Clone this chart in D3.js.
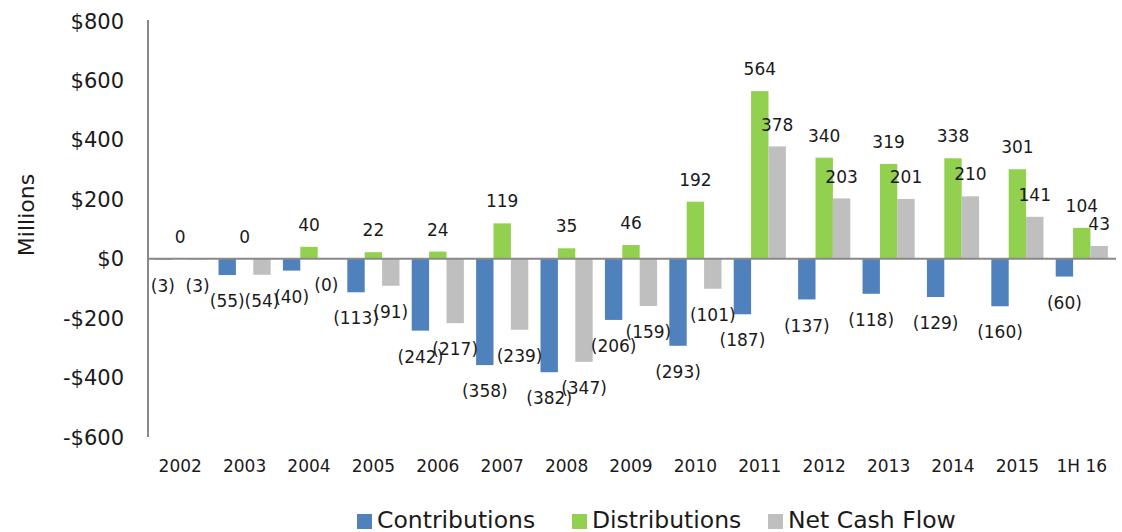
<!DOCTYPE html>
<html>
<head>
<meta charset="utf-8">
<script src="https://cdn.jsdelivr.net/npm/d3@7"></script>
<style>
  body { margin: 0; background: #fff; }
  svg text { font-family: "DejaVu Sans", sans-serif; fill: #1a1a1a; }
</style>
</head>
<body>
<svg width="1122" height="532"></svg>
<script>
var years = ["2002", "2003", "2004", "2005", "2006", "2007", "2008", "2009", "2010",
             "2011", "2012", "2013", "2014", "2015", "1H 16"];
var contributions = [-3, -55, -40, -113, -242, -358, -382, -206, -293, -187, -137, -118, -129, -160, -60];
var distributions = [0, 0, 40, 22, 24, 119, 35, 46, 192, 564, 340, 319, 338, 301, 104];
var netCashFlow = [-3, -54, -0.4, -91, -217, -239, -347, -159, -101, 378, 203, 201, 210, 141, 43];
var yTicks = [-600, -400, -200, 0, 200, 400, 600, 800];

var seriesNames = ["Contributions", "Distributions", "Net Cash Flow"];
var seriesColors = ["#4F81BD", "#92D050", "#BFBFBF"];
var seriesValues = [contributions, distributions, netCashFlow];

var svg = d3.select("svg");

// plot edges (not named top/left: window.top is read-only)
var plotL = 148, plotR = 1114, plotT = 21, plotB = 437;

var x0 = d3.scaleBand().domain(years).range([plotL, plotR]).padding(0);
var gap = x0.bandwidth() * 0.095;
var x1 = d3.scaleBand().domain(seriesNames).range([gap, x0.bandwidth() - gap]).padding(0);
var y = d3.scaleLinear().domain([-600, 800]).range([plotB, plotT]);

function fmt(v) {
    if (v < 0) return "(" + Math.round(-v) + ")";
    return "" + Math.round(v);
}

// bars
seriesNames.forEach(function(name, s) {
    var vals = seriesValues[s];
    svg.append("g").selectAll("rect")
        .data(years)
        .enter().append("rect")
        .attr("x", (d) => x0(d) + x1(name))
        .attr("width", x1.bandwidth())
        .attr("y", (d, i) => y(Math.max(0, vals[i])))
        .attr("height", (d, i) => Math.abs(y(vals[i]) - y(0)))
        .attr("fill", seriesColors[s]);
});

// axis lines
svg.append("line")
    .attr("x1", plotL).attr("x2", 1116)
    .attr("y1", y(0)).attr("y2", y(0))
    .attr("stroke", "#898989").attr("stroke-width", 2);
svg.append("line")
    .attr("x1", plotL).attr("x2", plotL)
    .attr("y1", 20).attr("y2", plotB)
    .attr("stroke", "#898989").attr("stroke-width", 2);

// y tick labels
svg.append("g").selectAll("text")
    .data(yTicks)
    .enter().append("text")
    .attr("x", 124)
    .attr("y", (d) => y(d))
    .attr("dy", "0.36em")
    .attr("text-anchor", "end")
    .style("font-size", "21px")
    .text((d) => (d < 0 ? "-$" : "$") + Math.abs(d));

// x labels
svg.append("g").selectAll("text")
    .data(years)
    .enter().append("text")
    .attr("x", (d) => x0(d) + x0.bandwidth() / 2)
    .attr("y", 466)
    .attr("dy", "0.36em")
    .attr("text-anchor", "middle")
    .style("font-size", "17px")
    .text((d) => d);

// data labels
seriesNames.forEach(function(name, s) {
    var vals = seriesValues[s];
    svg.append("g").selectAll("text")
        .data(years)
        .enter().append("text")
        .attr("x", (d) => x0(d) + x1(name) + x1.bandwidth() / 2)
        .attr("y", (d, i) => vals[i] < 0 ? y(vals[i]) + 26 : y(vals[i]) - 22)
        .attr("dy", "0.36em")
        .attr("text-anchor", "middle")
        .style("font-size", "17px")
        .text((d, i) => fmt(vals[i]));
});

// y title
svg.append("text")
    .attr("transform", "translate(26,215) rotate(-90)")
    .attr("text-anchor", "middle")
    .attr("dy", "0.36em")
    .style("font-size", "22px")
    .text("Millions");

// legend
var legendX = [357, 572, 768];
var legend = svg.append("g").selectAll("g")
    .data(seriesNames)
    .enter().append("g")
    .attr("transform", (d, i) => "translate(" + legendX[i] + ",0)");
legend.append("rect")
    .attr("x", 0).attr("y", 514)
    .attr("width", 15).attr("height", 15)
    .attr("fill", (d, i) => seriesColors[i]);
legend.append("text")
    .attr("x", 20).attr("y", 528)
    .style("font-size", "23.5px")
    .text((d) => d);
</script>
</body>
</html>
